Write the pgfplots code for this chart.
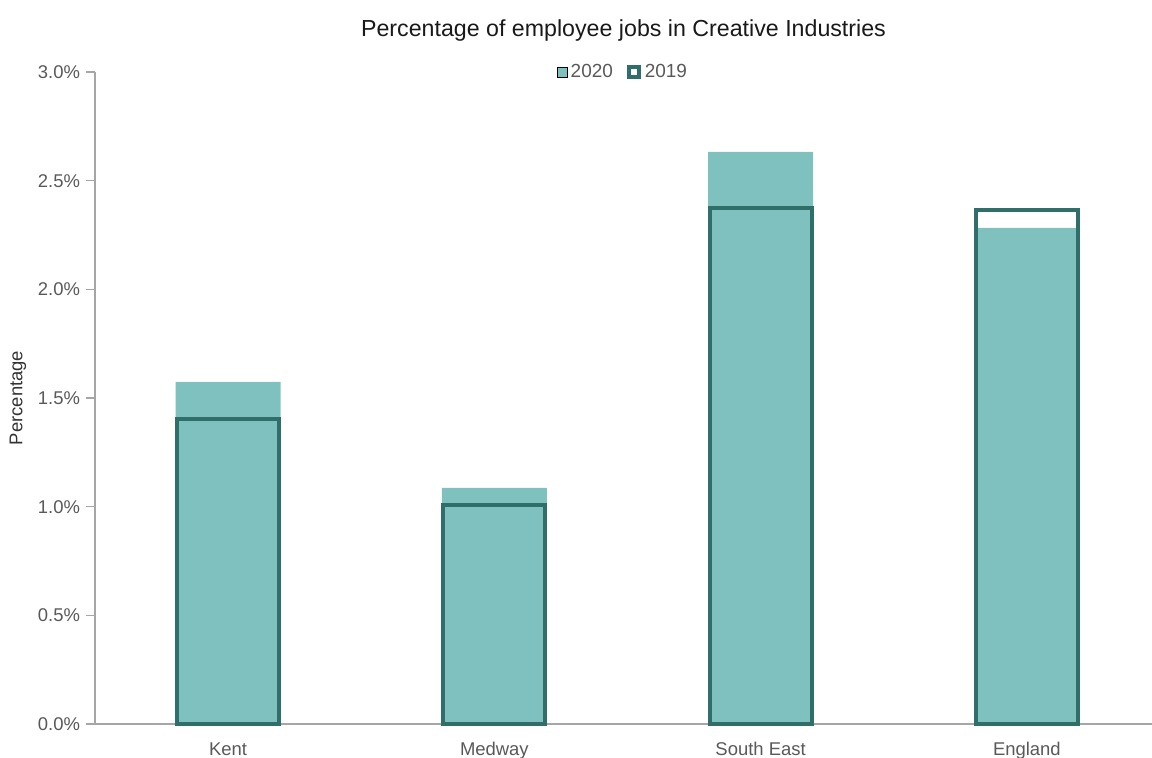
\documentclass[border=0pt]{standalone}
\usepackage{pgfplots}
\pgfplotsset{compat=1.18}
\usepackage{fontspec}
\setmainfont{Liberation Sans}
\definecolor{fillteal}{HTML}{7FC1BF}
\definecolor{darkteal}{HTML}{2F6E69}
\definecolor{txtgrey}{HTML}{595959}
\definecolor{axgrey}{HTML}{A6A6A6}
\begin{document}
\begin{tikzpicture}
\path[use as bounding box] (-1.9cm,-0.68cm) rectangle (21.14cm,14.48cm);
\begin{axis}[
  scale only axis,
  width=21.14cm, height=13.04cm,
  at={(0,0)}, anchor=south west,
  xmin=-0.5, xmax=3.47,
  ymin=0, ymax=3,
  axis x line*=bottom, axis y line*=left,
  axis line style={axgrey, line width=0.8pt},
  xtick={0,1,2,3},
  xticklabels={Kent,Medway,South East,England},
  major x tick style={draw=none},
  extra x ticks={-0.5,0.5,1.5,2.5},
  extra x tick labels={},
  extra x tick style={tick style={axgrey, line width=0.6pt}, major tick length=5pt, tick align=outside},
  ytick={0,0.5,...,3},
  yticklabel={\pgfmathprintnumber[fixed,fixed zerofill,precision=1]{\tick}\%},
  /pgf/number format/assume math mode=true,
  y tick style={axgrey, line width=0.6pt},
  tick align=outside,
  major tick length=5pt,
  ticklabel style={font=\fontsize{10.5}{12}\selectfont, text=txtgrey},
  xticklabel style={yshift=-2pt},
  ylabel={Percentage},
  ylabel style={font=\fontsize{10.5}{12}\selectfont, text=black!80, at={(axis description cs:-0.073,0.5)}, anchor=center},
  title={Percentage of employee jobs in Creative Industries},
  title style={font=\fontsize{13.2}{16}\selectfont, text=black!90, at={(axis description cs:0.5,1.0475)}, anchor=center, yshift=0pt},
  legend style={at={(axis description cs:0.5,1.0)}, anchor=center, draw=none, fill=none,
    legend columns=2, font=\fontsize{10.8}{13}\selectfont, text=txtgrey,
    /tikz/every even column/.append style={column sep=6pt}},
  legend image code/.code={\draw[#1] (0cm,-0.1cm) rectangle (0.2cm,0.1cm);},
  clip=false,
]
\addplot[ybar, bar width=2.1cm, bar shift=0pt, fill=fillteal, draw=none]
  coordinates {(0,1.574) (1,1.086) (2,2.632) (3,2.283)};
\addlegendentry{2020}
\addplot[ybar, bar width=2.04cm, bar shift=0pt, fill=none, draw=darkteal, line width=2.4pt]
  coordinates {(0,1.402) (1,1.008) (2,2.375) (3,2.365)};
\addlegendentry{2019}
\end{axis}
\end{tikzpicture}
\end{document}
